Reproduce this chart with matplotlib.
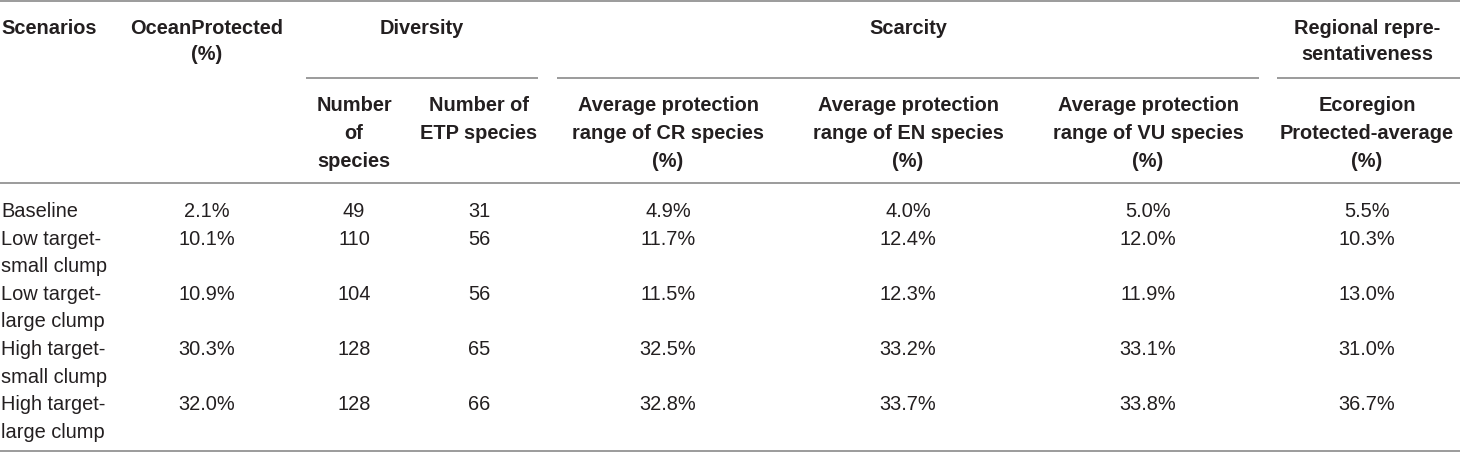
"""
Recreate the scenario comparison table as a matplotlib figure -> out.png
"""

import matplotlib
matplotlib.use("Agg")
import matplotlib.pyplot as plt

# ─── Table content ───────────────────────────────────────────────────────────

scenarios = [
    "Baseline",
    "Low target-\nsmall clump",
    "Low target-\nlarge clump",
    "High target-\nsmall clump",
    "High target-\nlarge clump",
]
ocean_protected = ["2.1%", "10.1%", "10.9%", "30.3%", "32.0%"]
n_species = ["49", "110", "104", "128", "128"]
n_etp_species = ["31", "56", "56", "65", "66"]
cr_range = ["4.9%", "11.7%", "11.5%", "32.5%", "32.8%"]
en_range = ["4.0%", "12.4%", "12.3%", "33.2%", "33.7%"]
vu_range = ["5.0%", "12.0%", "11.9%", "33.1%", "33.8%"]
ecoregion_avg = ["5.5%", "10.3%", "13.0%", "31.0%", "36.7%"]

group_headers = ["Diversity", "Scarcity", "Regional repre-\nsentativeness"]
top_headers = ["Scenarios", "OceanProtected\n(%)"]
sub_headers = [
    "Number\nof\nspecies",
    "Number of\nETP species",
    "Average protection\nrange of CR species\n(%)",
    "Average protection\nrange of EN species\n(%)",
    "Average protection\nrange of VU species\n(%)",
    "Ecoregion\nProtected-average\n(%)",
]

# ─── Layout (pixels, figure is 1460 x 453) ───────────────────────────────────

W, H = 1460, 453
FONT = "Liberation Sans"
FS = 14.4
CAP = 7.0                      # half cap height in px, centre -> baseline
TEXT_COLOR = "#231f20"
RULE_COLOR = "#9b9b9b"

col_x = [1, 207, 354, 479, 668, 908, 1148, 1367]
group_x = [422, 908, 1367]
group_spans = [(306, 538), (557, 1259), (1277, 1460)]

head_y0, head_step = 27, 26.5
sub_y0, sub_step = 104, 28
row_y0, row_step = 210, 27.6


def put_lines(ax, x, y0, step, text, ha="center", weight="normal"):
    for k, line in enumerate(text.split("\n")):
        ax.text(x, y0 + k * step + CAP, line, ha=ha, va="baseline",
                fontsize=FS, fontweight=weight, family=FONT, color=TEXT_COLOR)


fig = plt.figure(figsize=(W / 100, H / 100), dpi=100)
ax = fig.add_axes([0, 0, 1, 1])
ax.set_xlim(0, W)
ax.set_ylim(H, 0)
ax.axis("off")

# rules
ax.hlines([1.2, 183, 451], 0, W, color=RULE_COLOR, lw=1.4)
for x0, x1 in group_spans:
    ax.hlines(78, x0, x1, color=RULE_COLOR, lw=1.4)

# header
put_lines(ax, col_x[0], head_y0, head_step, top_headers[0], ha="left", weight="bold")
put_lines(ax, col_x[1], head_y0, head_step, top_headers[1], weight="bold")
for gx, label in zip(group_x, group_headers):
    put_lines(ax, gx, head_y0, head_step, label, weight="bold")
for cx, label in zip(col_x[2:], sub_headers):
    put_lines(ax, cx, sub_y0, sub_step, label, weight="bold")

# body
columns = [ocean_protected, n_species, n_etp_species,
           cr_range, en_range, vu_range, ecoregion_avg]
line_idx = 0
for i, name in enumerate(scenarios):
    y = row_y0 + line_idx * row_step
    put_lines(ax, col_x[0], y, row_step, name, ha="left")
    for cx, values in zip(col_x[1:], columns):
        put_lines(ax, cx, y, row_step, values[i])
    line_idx += len(name.split("\n"))

fig.savefig("out.png", dpi=100)
plt.close(fig)
